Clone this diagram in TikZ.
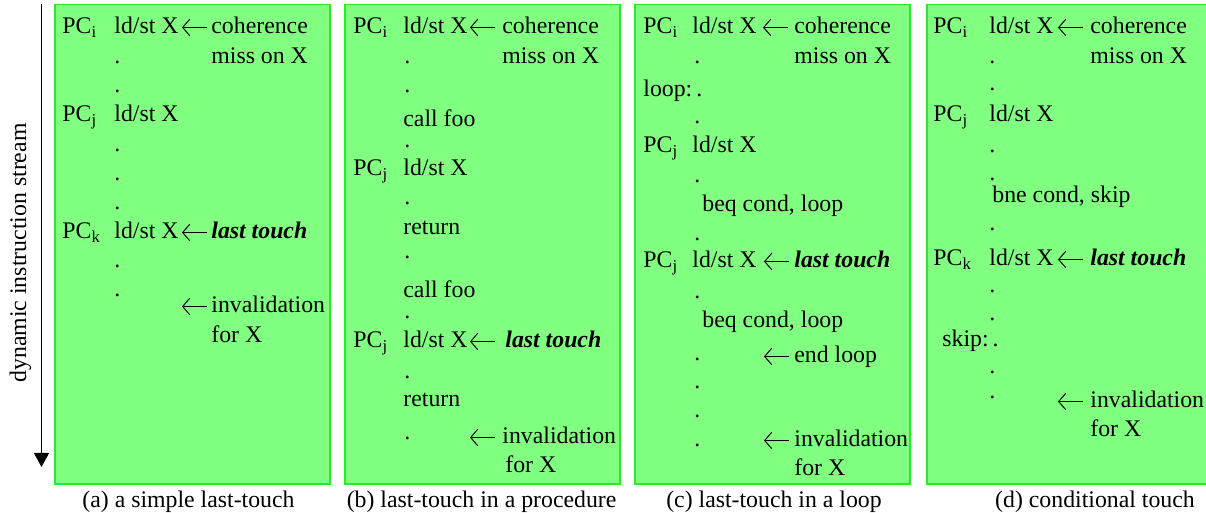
\documentclass[tikz,border=0pt]{standalone}
\usepackage{fontspec}
\setmainfont{Liberation Serif}
\usetikzlibrary{arrows.meta}
\definecolor{panelfill}{RGB}{128,255,128}
\definecolor{panelline}{RGB}{40,235,40}
\tikzset{
  txt/.style={anchor=base west, inner sep=0pt, font=\rmfamily\fontsize{11.9}{14}\selectfont},
  captext/.style={anchor=base, inner sep=0pt, font=\rmfamily\fontsize{11.9}{14}\selectfont},
  panel/.style={fill=panelfill, draw=panelline, line width=0.6pt},
  flow/.style={line width=0.7pt, -{Triangle[width=7.5pt,length=7pt]}},
  annarrow/.style={line width=0.5pt, -{Straight Barb[length=3.6pt,width=8.4pt]}}
}
\newcommand{\lt}{\textbf{\textit{last touch}}}
\newcommand{\larr}[3]{%
  \coordinate (#1h) at (#2,#3-6.5);
  \coordinate (#1t) at (#2+25,#3-6.5);
  \draw[annarrow] (#1t) -- (#1h);}
\begin{document}
\begin{tikzpicture}[x=0.5pt,y=-0.5pt]
\useasboundingbox (0,0) rectangle (1206,513);
% panels
\draw[panel] (55,4.5) rectangle (330,484);
\draw[panel] (345,4.5) rectangle (620,484);
\draw[panel] (635,4.5) rectangle (910,484);
\draw[panel] (927,4.5) rectangle (1212,484);
% stream arrow
\coordinate (st) at (41.5,4);
\coordinate (sb) at (41.5,467);
\draw[flow] (st) -- (sb);
\node[captext, rotate=90] (slab) at (26,253) {dynamic instruction stream};
% ---------- panel a
\node[txt] (a1) at (62,34) {PC\textsubscript{i}};
\node[txt] (a2) at (114,34) {ld/st X};
\larr{a3}{182}{34}
\node[txt] (a4) at (211,34) {coherence};
\node[txt] (a5) at (211,64) {miss on X};
\node[txt] (a6) at (114,64) {.};
\node[txt] (a7) at (114,93) {.};
\node[txt] (a8) at (62,122) {PC\textsubscript{j}};
\node[txt] (a9) at (114,122) {ld/st X};
\node[txt] (a10) at (114,152) {.};
\node[txt] (a11) at (114,181) {.};
\node[txt] (a12) at (114,210) {.};
\node[txt] (a13) at (62,239) {PC\textsubscript{k}};
\node[txt] (a14) at (114,239) {ld/st X};
\larr{a15}{182}{239}
\node[txt] (a16) at (211,239) {\lt};
\node[txt] (a17) at (114,268) {.};
\node[txt] (a18) at (114,297) {.};
\larr{a19}{182}{313}
\node[txt] (a20) at (211,313) {invalidation};
\node[txt] (a21) at (211,343) {for X};
\node[captext] (ca) at (188.5,508) {(a) a simple last-touch};
% ---------- panel b
\node[txt] (b1) at (353,34) {PC\textsubscript{i}};
\node[txt] (b2) at (403,34) {ld/st X};
\larr{b3}{470}{34}
\node[txt] (b4) at (502,34) {coherence};
\node[txt] (b5) at (502,64) {miss on X};
\node[txt] (b6) at (404,64) {.};
\node[txt] (b7) at (404,93) {.};
\node[txt] (b8) at (403,127) {call foo};
\node[txt] (b9) at (404,148) {.};
\node[txt] (b10) at (353,176) {PC\textsubscript{j}};
\node[txt] (b11) at (403,176) {ld/st X};
\node[txt] (b12) at (404,205) {.};
\node[txt] (b13) at (403,235) {return};
\node[txt] (b14) at (404,259) {.};
\node[txt] (b15) at (403,298) {call foo};
\node[txt] (b16) at (404,319) {.};
\node[txt] (b17) at (353,348) {PC\textsubscript{j}};
\node[txt] (b18) at (403,348) {ld/st X};
\larr{b19}{470}{348}
\node[txt] (b20) at (505,348) {\lt};
\node[txt] (b21) at (404,379) {.};
\node[txt] (b22) at (403,407) {return};
\node[txt] (b23) at (404,439) {.};
\larr{b24}{470}{444}
\node[txt] (b25) at (502,444) {invalidation};
\node[txt] (b26) at (505,473) {for X};
\node[captext] (cb) at (481.6,508) {(b) last-touch in a procedure};
% ---------- panel c
\node[txt] (c1) at (643,34) {PC\textsubscript{i}};
\node[txt] (c2) at (692,34) {ld/st X};
\larr{c3}{763}{34}
\node[txt] (c4) at (794,34) {coherence};
\node[txt] (c5) at (794,64) {miss on X};
\node[txt] (c6) at (694,64) {.};
\node[txt] (c7) at (643,97) {loop:\,.};
\node[txt] (c8) at (694,124) {.};
\node[txt] (c9) at (643,153) {PC\textsubscript{j}};
\node[txt] (c10) at (692,153) {ld/st X};
\node[txt] (c11) at (694,183) {.};
\node[txt] (c12) at (702,212) {beq cond, loop};
\node[txt] (c13) at (694,241) {.};
\node[txt] (c14) at (643,268) {PC\textsubscript{j}};
\node[txt] (c15) at (692,268) {ld/st X};
\larr{c16}{764}{268}
\node[txt] (c17) at (794,268) {\lt};
\node[txt] (c18) at (694,299) {.};
\node[txt] (c19) at (702,328) {beq cond, loop};
\node[txt] (c20) at (694,361) {.};
\larr{c21}{764}{363}
\node[txt] (c22) at (794,363) {end loop};
\node[txt] (c23) at (694,389) {.};
\node[txt] (c24) at (694,418) {.};
\node[txt] (c25) at (694,447) {.};
\larr{c26}{764}{447}
\node[txt] (c27) at (794,447) {invalidation};
\node[txt] (c28) at (794,475) {for X};
\node[captext] (cc) at (774,508) {(c) last-touch in a loop};
% ---------- panel d
\node[txt] (d1) at (933,34) {PC\textsubscript{i}};
\node[txt] (d2) at (989,34) {ld/st X};
\larr{d3}{1058}{34}
\node[txt] (d4) at (1090,34) {coherence};
\node[txt] (d5) at (1090,64) {miss on X};
\node[txt] (d6) at (989,64) {.};
\node[txt] (d7) at (989,91) {.};
\node[txt] (d8) at (933,122) {PC\textsubscript{j}};
\node[txt] (d9) at (989,122) {ld/st X};
\node[txt] (d10) at (989,153) {.};
\node[txt] (d11) at (989,181) {.};
\node[txt] (d12) at (992,203) {bne cond, skip};
\node[txt] (d13) at (989,231) {.};
\node[txt] (d14) at (933,266) {PC\textsubscript{k}};
\node[txt] (d15) at (989,266) {ld/st X};
\larr{d16}{1058}{266}
\node[txt] (d17) at (1090,266) {\lt};
\node[txt] (d18) at (989,293) {.};
\node[txt] (d19) at (989,321) {.};
\node[txt] (d20) at (942,347) {skip:\,.};
\node[txt] (d21) at (989,374) {.};
\node[txt] (d22) at (989,399) {.};
\larr{d23}{1058}{408}
\node[txt] (d24) at (1090,408) {invalidation};
\node[txt] (d25) at (1090,437) {for X};
\node[captext] (cd) at (1095,508) {(d) conditional touch};
\end{tikzpicture}
\end{document}
